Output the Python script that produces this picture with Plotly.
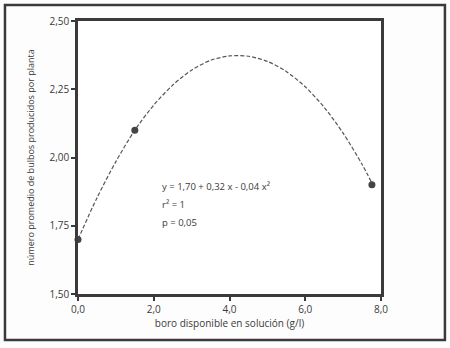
import plotly.graph_objects as go

# Observed data points
obs_x = [0.0, 1.5, 7.76]
obs_y = [1.70, 2.10, 1.90]

# Fitted curve
curve_x = [0.0, 0.5, 1.0, 1.5, 2.0, 2.5, 3.0, 3.5, 4.0, 4.5, 5.0, 5.5, 6.0, 6.5, 7.0, 7.5, 7.76]
curve_y = [1.700, 1.852, 1.985, 2.100, 2.192, 2.265, 2.320, 2.356, 2.372, 2.371, 2.352, 2.315, 2.259, 2.184, 2.089, 1.975, 1.906]

x_ticks = [0, 2, 4, 6, 8]
x_tick_text = ["0,0", "2,0", "4,0", "6,0", "8,0"]
y_ticks = [1.50, 1.75, 2.00, 2.25, 2.50]
y_tick_text = ["1,50", "1,75", "2,00", "2,25", "2,50"]

annot_lines = ["y = 1,70 + 0,32 x - 0,04 x²", "r² = 1", "p = 0,05"]

ink = "#3a3a3a"
font_family = "Open Sans, DejaVu Sans, sans-serif"

fig = go.Figure()
fig.add_trace(go.Scatter(
    x=curve_x, y=curve_y, mode="lines",
    line=dict(color="#555555", width=1.2, dash="4px,2px", shape="spline", smoothing=0.8),
    hoverinfo="skip", showlegend=False,
))
fig.add_trace(go.Scatter(
    x=obs_x, y=obs_y, mode="markers",
    marker=dict(color="#444444", size=7),
    showlegend=False, cliponaxis=False,
))

fig.update_xaxes(
    range=[0, 8], tickvals=x_ticks, ticktext=x_tick_text,
    showline=True, linewidth=2.5, linecolor=ink, mirror=True,
    ticks="outside", ticklen=4, tickwidth=2, tickcolor=ink,
    showgrid=False, zeroline=False,
    tickfont=dict(size=10, color=ink, family=font_family),
    title=dict(text="boro disponible en solución (g/l)", standoff=6,
               font=dict(size=10, color=ink, family=font_family)),
)
fig.update_yaxes(
    range=[1.5, 2.5], tickvals=y_ticks, ticktext=y_tick_text,
    showline=True, linewidth=2.5, linecolor=ink, mirror=True,
    ticks="outside", ticklen=4, tickwidth=2, tickcolor=ink,
    showgrid=False, zeroline=False,
    tickfont=dict(size=10, color=ink, family=font_family),
    title=dict(text="número promedio de bulbos producidos por planta", standoff=14,
               font=dict(size=9, color=ink, family=font_family)),
)

for i, t in enumerate(annot_lines):
    fig.add_annotation(
        x=0.27, y=0.393 - i * 0.066, xref="paper", yref="paper",
        text=t, showarrow=False, xanchor="left", yanchor="middle",
        font=dict(size=9.5, color=ink, family=font_family),
    )

# outer frame of the figure
fig.add_shape(
    type="rect", xref="paper", yref="paper",
    x0=-0.241, x1=1.211, y0=-0.1685, y1=1.0586,
    line=dict(color=ink, width=2.5), layer="below",
)

fig.update_layout(
    width=450, height=348,
    margin=dict(l=78, r=69, t=21, b=54),
    paper_bgcolor="#fdfdfd", plot_bgcolor="#ffffff",
    font=dict(family=font_family, color=ink),
)

fig.write_html("out.html")
